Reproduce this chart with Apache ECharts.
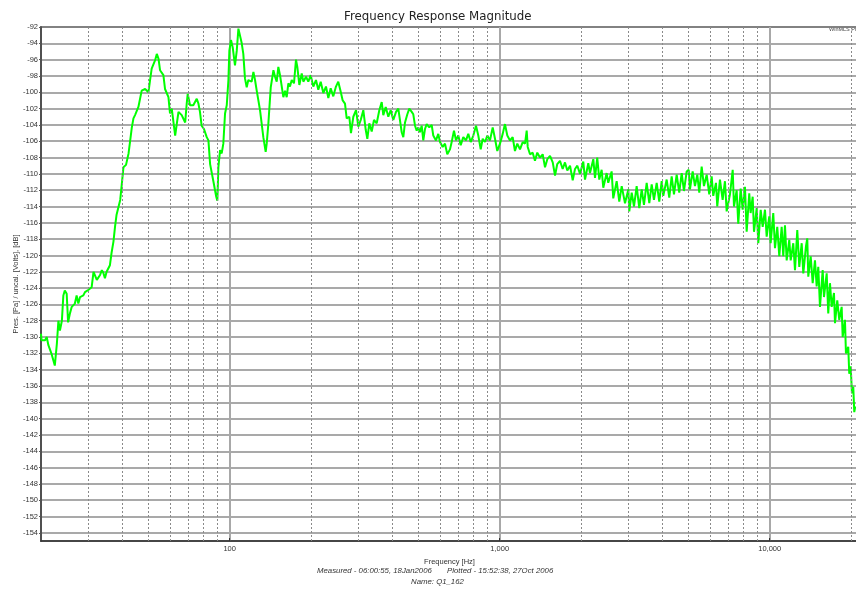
<!DOCTYPE html>
<html>
<head>
<meta charset="utf-8">
<script src="https://cdn.jsdelivr.net/npm/echarts@6/dist/echarts.min.js"></script>
<style>
  html, body { margin: 0; padding: 0; background: #ffffff; }
  #chart { width: 856px; height: 590px; }
</style>
</head>
<body>
<div id="chart"></div>
<script>
// Measured magnitude, [frequency in Hz, level in dB], split by band.
const bass = [
  [20, -129.6], [20.1, -130.4], [20.7, -130.4], [21.0, -130.0], [21.3, -131.0], [21.9, -132.1],
  [22.2, -132.3], [22.5, -133.5], [22.9, -130.8], [23.2, -128.0], [23.5, -129.2], [23.9, -128.0],
  [24.2, -124.9], [24.5, -124.3], [24.9, -124.7], [25.2, -128.2], [25.6, -127.1], [26.0, -126.3],
  [26.7, -125.9], [27.1, -124.9], [27.5, -125.9], [27.9, -125.1], [28.3, -125.3], [28.7, -124.9],
  [29.1, -124.5], [30.0, -124.2], [30.8, -123.9], [31.3, -122.0], [31.7, -122.0], [32.2, -123.0],
  [33.1, -122.4], [33.6, -121.8], [34.0, -122.1], [34.5, -122.8], [35.0, -122.0], [36.0, -121.2],
  [36.5, -119.7], [37.1, -118.3], [37.6, -116.5], [38.1, -115.0], [39.3, -113.2], [39.8, -111.4],
  [40.4, -109.2], [41.3, -108.9], [42.2, -107.5], [42.8, -105.9], [43.4, -104.3], [44.0, -103.2],
  [44.6, -102.8], [45.3, -103.0], [45.9, -101.8], [47.2, -99.8], [48.6, -99.6], [50.0, -100.0],
  [50.7, -98.5], [51.4, -97.1], [52.9, -96.1], [53.7, -95.3], [54.5, -95.9], [55.2, -97.3],
  [56.8, -97.9], [57.6, -99.6], [58.4, -99.8], [59.3, -100.6], [60.1, -102.6], [61.0, -102.0],
  [61.9, -102.2], [62.8, -105.3], [63.7, -105.5], [64.6, -102.4], [65.5, -102.2], [66.4, -102.8],
  [68.4, -103.7], [69.3, -101.4], [69.9, -100.2], [71.3, -101.6], [73.3, -101.6], [75.5, -100.8],
  [76.6, -101.4], [77.6, -102.4], [78.7, -104.1], [80.3, -104.5], [82.2, -105.5], [83.4, -105.9],
  [84.6, -108.8], [87.1, -111.0], [89.0, -112.7], [90.0, -113.3], [90.8, -109.2], [92.1, -107.1],
  [93.4, -107.5], [94.7, -106.3], [96.1, -102.6], [97.5, -101.6], [98.9, -98.5], [99.7, -94.9]
];

const lowMid = [
  [101.1, -93.6], [102.6, -94.5], [104.6, -96.7], [106.2, -94.9], [107.7, -92.2], [109.2, -92.0],
  [110.8, -94.0], [112.3, -95.3], [113.9, -98.3], [115.6, -99.4], [117.2, -98.5], [120.6, -98.7],
  [122.4, -97.5], [124.1, -98.5], [125.9, -99.8], [127.7, -101.0], [129.5, -102.2], [133.2, -105.5],
  [135.9, -107.3], [137.1, -106.3], [139.0, -103.9], [141.9, -99.4], [145.2, -97.3], [147.2, -98.1],
  [149.3, -98.7], [151.4, -96.9], [153.6, -97.9], [158.0, -100.6], [160.3, -99.8], [162.6, -100.6],
  [164.9, -98.9], [167.2, -99.3], [169.7, -98.5], [173, -98.9], [176, -96.0], [178, -96.9],
  [181.1, -99.1], [184.8, -97.7], [187.4, -98.7], [191.7, -98.1], [195.5, -98.7], [199.5, -97.9],
  [204, -99.3], [208.7, -98.5], [212.9, -99.7], [217.3, -98.7], [222.2, -100.1], [227.3, -99.3],
  [231.9, -100.7], [236.6, -99.5], [241.9, -100.5], [247.5, -99.3], [252.4, -98.7], [257.6, -99.9],
  [262.1, -101.0], [267.3, -101.4], [271.2, -103.2], [277.3, -103.0], [281.3, -105.0], [287, -103.0],
  [293.7, -102.2], [299.5, -104.2], [305.7, -103.4], [312.5, -102.2], [319, -104.6], [323.4, -105.7],
  [328.9, -103.8], [335.7, -104.8], [342.3, -103.4], [350.3, -103.8], [358.2, -102.2], [365.6, -101.2],
  [370.6, -102.8], [378.3, -101.8], [386.8, -103.0], [394.8, -102.2], [403.6, -103.4], [413, -102.4],
  [421.2, -102.0]
];

const mid = [
  [427.4, -102.2], [433.6, -104.9], [439.5, -105.5], [446, -103.7], [454.9, -102.7], [462.6, -102.0],
  [472.2, -102.4], [478.6, -102.7], [485.7, -104.1], [492.7, -104.7], [499.4, -104.3], [506.6, -104.9],
  [514.1, -104.1], [521.2, -105.9], [528.8, -104.5], [536.5, -103.9], [548.6, -104.3], [559.9, -104.0],
  [567.5, -105.3], [580.7, -105.9], [592.3, -105.1], [601, -106.1], [615, -106.7], [627.2, -106.3],
  [639.6, -107.6], [654.5, -107.0], [664, -106.1], [677.2, -104.7], [688.8, -105.9], [702.5, -105.3],
  [717.1, -106.5], [733.1, -105.5], [750.2, -105.9], [765.1, -105.1], [781, -106.1], [798.5, -105.3],
  [817.1, -104.1], [833.2, -105.3], [850.5, -107.0], [865, -105.7], [882.3, -106.1], [899.9, -105.3],
  [920.7, -105.9], [942.1, -104.3], [960.8, -105.7], [979.7, -107.2], [1002.5, -106.3], [1026, -105.1],
  [1046, -103.9], [1067, -105.3], [1092, -105.9], [1117, -105.5], [1139, -107.2], [1162, -106.3],
  [1189, -107.0], [1217, -106.1], [1241, -106.3], [1259, -104.7], [1270, -106.7], [1295, -107.6],
  [1325, -107.4], [1351, -108.4], [1378, -107.4], [1410, -108.0], [1443, -107.6], [1472, -109.2],
  [1501, -108.2], [1536, -107.8], [1572, -108.6], [1603, -110.2], [1634, -108.8], [1672, -108.4],
  [1711, -109.4], [1745, -108.6], [1780, -109.6], [1822, -109.0], [1864, -110.8], [1901, -109.4],
  [1939, -109.0], [1984, -110.0]
];

const presence = [
  [2040, -108.5], [2070, -110.7], [2129, -108.7], [2160, -109.9], [2222, -108.2], [2254, -110.5],
  [2298, -108.0], [2338, -110.7], [2386, -109.5], [2419, -111.7], [2490, -109.9], [2524, -111.1],
  [2598, -109.7], [2634, -113.0], [2712, -110.9], [2773, -113.4], [2831, -111.5], [2912, -113.6],
  [2995, -111.9], [3020, -114.6], [3083, -112.3], [3144, -114.0], [3216, -111.5], [3289, -114.2],
  [3357, -111.9], [3423, -113.8], [3503, -111.1], [3582, -113.6], [3656, -111.3], [3728, -113.2],
  [3815, -111.1], [3900, -113.4], [3981, -110.9], [4036, -112.7], [4154, -110.7], [4247, -112.9],
  [4335, -110.3], [4421, -112.5], [4524, -110.1], [4625, -112.3], [4721, -109.9], [4814, -112.1],
  [4927, -109.7], [5012, -109.5], [5067, -111.9], [5185, -109.7], [5288, -111.5], [5393, -110.1],
  [5486, -112.3], [5599, -109.1], [5710, -111.5], [5843, -110.1], [5974, -112.5], [6098, -110.3],
  [6181, -112.7], [6325, -111.1], [6395, -114.0], [6544, -110.7], [6696, -113.2], [6829, -110.9],
  [6929, -114.6]
];

const treble = [
  [7128, -112.5], [7295, -109.5], [7375, -114.0], [7546, -112.0], [7650, -116.1], [7808, -111.8],
  [7943, -114.4], [8100, -111.6], [8218, -117.1], [8402, -112.4], [8501, -114.8], [8650, -112.8],
  [8748, -117.1], [8952, -114.2], [9075, -118.5], [9262, -114.4], [9421, -116.5], [9608, -114.4],
  [9748, -117.7], [9966, -115.2], [10085, -118.5], [10311, -114.8], [10462, -119.1], [10669, -116.5],
  [10854, -120.1], [11077, -116.5], [11230, -120.1], [11394, -116.3], [11561, -120.6], [11820, -118.1],
  [11963, -120.6], [12230, -118.5], [12410, -121.8], [12655, -116.9], [12873, -121.4], [13140, -118.5],
  [13320, -122.2], [13627, -118.9], [13781, -117.9], [13900, -122.6], [14187, -120.1], [14431, -123.4],
  [14717, -120.6], [14932, -123.8], [15136, -121.4], [15358, -126.3], [15715, -121.8], [15890, -125.1],
  [16260, -122.2], [16482, -127.1], [16724, -123.4], [16968, -126.3], [17304, -124.6], [17455, -128.3],
  [17798, -125.5], [18104, -127.9], [18478, -126.3], [18636, -130.0], [19003, -127.9], [19166, -132.0],
  [19545, -131.2], [19713, -134.5], [19953, -133.6], [20175, -136.9], [20399, -136.1], [20575, -139.2],
  [20752, -138.5]
];

// Axis ranges and gridline positions
const freqRange = [20, 21240];
const levelRange = [-155, -92];
const decadeLabels = [100, 1000, 10000];
const minorGrid = [30, 40, 50, 60, 70, 80, 90, 200, 300, 400, 500, 600, 700, 800, 900,
  2000, 3000, 4000, 5000, 6000, 7000, 8000, 9000, 20000];

const response = [].concat(bass, lowMid, mid, presence, treble);

const labelFont = 'Liberation Sans, Arial, sans-serif';

function withCommas(n) {
  return String(n).replace(/\B(?=(\d{3})+(?!\d))/g, ',');
}

const chart = echarts.init(document.getElementById('chart'), null, { renderer: 'canvas' });

chart.setOption({
  animation: false,
  backgroundColor: '#ffffff',
  title: {
    text: 'Frequency Response Magnitude',
    left: 339,
    top: 6,
    textStyle: { fontFamily: 'DejaVu Sans, Verdana, sans-serif', fontSize: 11.8, fontWeight: 'normal', color: '#222' }
  },
  grid: {
    left: 41, right: -2, top: 27, bottom: 49,
    outerBoundsMode: 'none',
    containLabel: false,
    show: true, borderColor: '#333', borderWidth: 1.5, backgroundColor: 'transparent'
  },
  xAxis: {
    type: 'log',
    logBase: 10,
    min: freqRange[0],
    max: freqRange[1],
    name: 'Frequency [Hz]',
    nameLocation: 'middle',
    nameGap: 17,
    nameMoveOverlap: false,
    nameTextStyle: { fontFamily: labelFont, fontSize: 7.5, color: '#333' },
    axisLine: { lineStyle: { color: '#333', width: 1.5 } },
    axisTick: { show: true, inside: true, length: 3, lineStyle: { color: '#333' } },
    axisLabel: {
      fontFamily: labelFont, fontSize: 7.5, color: '#333', margin: 4,
      showMinLabel: false, showMaxLabel: false,
      formatter: function (v) {
        const r = Math.round(v);
        return decadeLabels.indexOf(r) >= 0 ? withCommas(r) : '';
      }
    },
    splitLine: { show: true, lineStyle: { color: '#a8a8a8', width: 2 } },
    minorTick: { show: false },
    minorSplitLine: { show: false }
  },
  yAxis: {
    type: 'value',
    min: levelRange[0],
    max: levelRange[1],
    splitNumber: 32,
    minInterval: 2,
    maxInterval: 2,
    name: 'Pres. [Pa] / uncal. [Volts], [dB]',
    nameLocation: 'middle',
    nameRotate: 90,
    nameGap: 21,
    nameMoveOverlap: false,
    nameTextStyle: { fontFamily: labelFont, fontSize: 7.5, color: '#333' },
    axisLine: { show: true, lineStyle: { color: '#333', width: 1.5 } },
    axisTick: { show: true, inside: false, length: 2, lineStyle: { color: '#555' } },
    axisLabel: {
      fontFamily: labelFont, fontSize: 7.5, color: '#333', margin: 3,
      showMinLabel: false
    },
    splitLine: { show: true, lineStyle: { color: '#8c8c8c', width: 1.5 } }
  },
  graphic: [
    {
      type: 'text', left: 829, top: 26, silent: true,
      style: { text: 'WinMLS Pro', font: '5.5px ' + labelFont, fill: '#444' }
    },
    {
      type: 'text', left: 317, top: 567, silent: true,
      style: {
        text: 'Measured - 06:00:55, 18Jan2006       Plotted - 15:52:38, 27Oct 2006',
        font: 'italic 7.8px ' + labelFont, fill: '#333'
      }
    },
    {
      type: 'text', left: 411, top: 578, silent: true,
      style: { text: 'Name: Q1_162', font: 'italic 7.8px ' + labelFont, fill: '#333' }
    }
  ],
  series: [
    {
      name: 'minor grid',
      type: 'line',
      data: [],
      z: 1,
      silent: true,
      markLine: {
        silent: true,
        animation: false,
        symbol: ['none', 'none'],
        label: { show: false },
        lineStyle: { color: '#8a8a8a', width: 1, type: [2, 2] },
        data: minorGrid.map(function (f) { return { xAxis: f }; })
      }
    },
    {
      name: 'Magnitude',
      type: 'line',
      data: response,
      z: 3,
      showSymbol: false,
      symbol: 'none',
      smooth: false,
      lineStyle: { color: '#00ff00', width: 2 },
      emphasis: { disabled: true }
    }
  ]
});
</script>
</body>
</html>
